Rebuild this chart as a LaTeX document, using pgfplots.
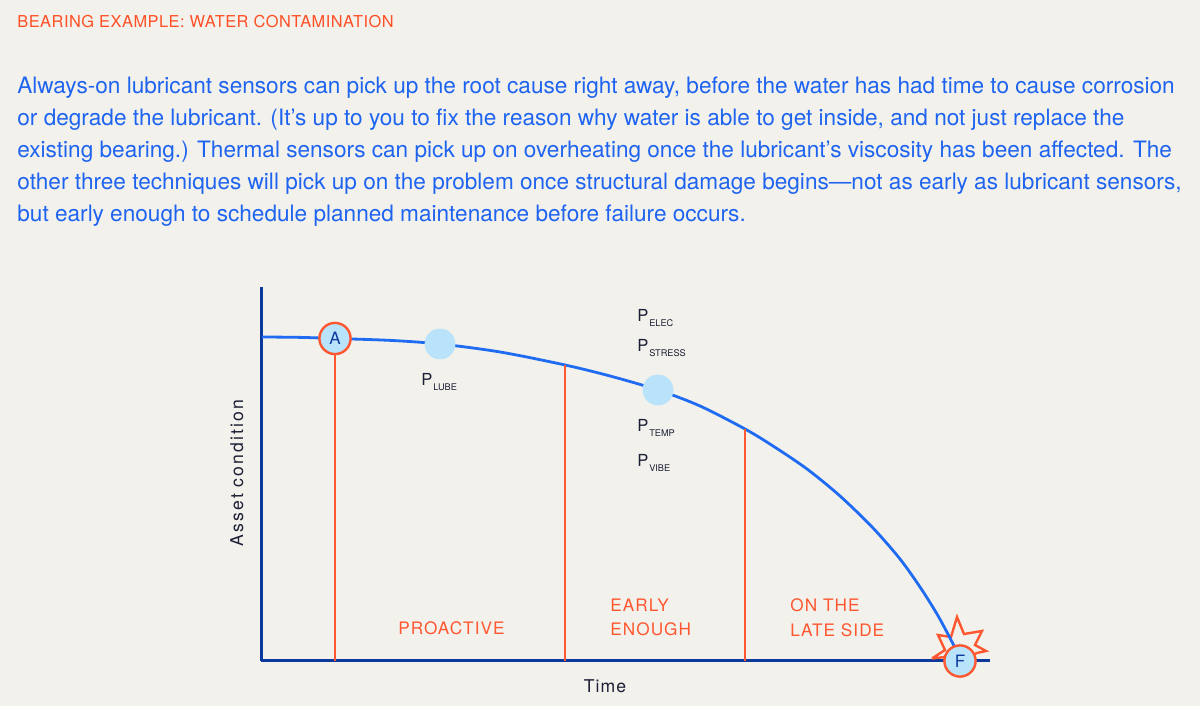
\documentclass[border=0pt]{standalone}
\usepackage{fontspec}
\setmainfont{TeX Gyre Heros}
\newfontfamily\spaced[LetterSpace=6]{TeX Gyre Heros}
\newfontfamily\titlefont[LetterSpace=3]{TeX Gyre Heros}
\newfontfamily\widespaced[LetterSpace=12]{TeX Gyre Heros}
\usepackage{pgfplots}
\pgfplotsset{compat=1.18}

\definecolor{bg}{HTML}{F3F1EC}
\definecolor{titlered}{HTML}{FF5026}
\definecolor{textblue}{HTML}{1E64F0}
\definecolor{axisblue}{HTML}{0B3A9C}
\definecolor{curveblue}{HTML}{1F6BF2}
\definecolor{lightblue}{HTML}{B9E2FB}
\definecolor{linered}{HTML}{FF5730}
\definecolor{navy}{HTML}{1C1F35}

\newcommand{\plab}[1]{{\fontsize{8.3}{9}\selectfont P}\kern0.4pt\raisebox{-2.5pt}{\fontsize{4.6}{5}\selectfont #1}}

\begin{document}
\begin{tikzpicture}[x=0.5pt,y=0.5pt]
\path[use as bounding box, fill=bg] (0,0) rectangle (1200,706);

% heading and text
\node[anchor=base west, inner sep=0, text=titlered, font=\titlefont\fontsize{8.2}{10}\selectfont]
  at (17,678) {BEARING EXAMPLE: WATER CONTAMINATION};
\begin{scope}[every node/.style={anchor=base west, inner sep=0, text=textblue, font=\fontsize{11.3}{13}\selectfont}]
\node at (17,612) {Always-on lubricant sensors can pick up the root cause right away, before the water has had time to cause corrosion};
\node at (17,580) {or degrade the lubricant. (It’s up to you to fix the reason why water is able to get inside, and not just replace the};
\node at (17,548) {existing bearing.) Thermal sensors can pick up on overheating once the lubricant’s viscosity has been affected. The};
\node at (17,516) {other three techniques will pick up on the problem once structural damage begins—not as early as lubricant sensors,};
\node at (17,484) {but early enough to schedule planned maintenance before failure occurs.};
\end{scope}

\begin{axis}[
    at={(130.5pt,22.5pt)}, anchor=south west,
    scale only axis, width=364.5pt, height=187pt,
    xmin=261, xmax=990, ymin=0, ymax=374,
    axis lines=left,
    axis line style={-, draw=axisblue, line width=1.5pt},
    xtick=\empty, ytick=\empty,
    axis on top=false,
    clip=false]

    % burst behind the failure point
    \addplot[fill=bg, draw=linered, line width=1.2pt, line join=miter]
        coordinates {
            (932,2.5) (945,11) (938,26) (951,24) (957,44) (964,27)
            (982,30) (975,16) (986,10) (977,8) (960,0) (945,4) (932,2.5)
        };

    % condition curve
    \addplot[smooth, curveblue, line width=1.4pt]
        coordinates {
            (262,324) (300,323.6) (335,322.5) (390,320.6) (440,317) (500,309)
            (565,296) (610,285) (658,271) (700,255) (745,232) (773,215)
            (807,192) (840,165) (873,133) (900,102) (920,74) (937,47)
            (950,23) (958,7) (960,2)
        };

    % zone borders
    \addplot[linered, line width=1.25pt] coordinates {(335,0) (335,322)};
    \addplot[linered, line width=1.25pt] coordinates {(565,0) (565,296)};
    \addplot[linered, line width=1.25pt] coordinates {(745,0) (745,232)};

    % detection points
    \addplot[only marks, mark=*, mark size=7.5pt, mark options={fill=lightblue, draw=lightblue}]
        coordinates {(440,317) (658,271)};
    \addplot[only marks, mark=*, mark size=7.8pt,
        mark options={fill=lightblue, draw=linered, line width=1.2pt},
        point meta=explicit symbolic, nodes near coords, nodes near coords align=center,
        every node near coord/.append style={text=axisblue, inner sep=0, font=\fontsize{8.5}{9}\selectfont}]
        coordinates {(335,322.5)[A] (960,0)[F]};

    \begin{scope}[every node/.style={anchor=base west, inner sep=0, text=navy}]
    \node at (axis cs:421,275) {\plab{LUBE}};
    \node at (axis cs:637,339) {\plab{ELEC}};
    \node at (axis cs:637,309) {\plab{STRESS}};
    \node at (axis cs:637,229) {\plab{TEMP}};
    \node at (axis cs:637,194) {\plab{VIBE}};
    \end{scope}

    \begin{scope}[every node/.style={anchor=base west, inner sep=0, text=linered, font=\spaced\fontsize{8.6}{10}\selectfont}]
    \node at (axis cs:398,26) {PROACTIVE};
    \node at (axis cs:610,49) {EARLY};
    \node at (axis cs:610,25) {ENOUGH};
    \node at (axis cs:790,49) {ON THE};
    \node at (axis cs:790,24) {LATE SIDE};
    \end{scope}

    \node[anchor=base, inner sep=0, text=navy, font=\spaced\fontsize{8.8}{10}\selectfont] at (axis cs:605,-32) {Time};
    \node[anchor=base, inner sep=0, rotate=90, text=navy, font=\widespaced\fontsize{8.8}{10}\selectfont] at (axis cs:243,188) {Asset condition};
\end{axis}
\end{tikzpicture}
\end{document}
